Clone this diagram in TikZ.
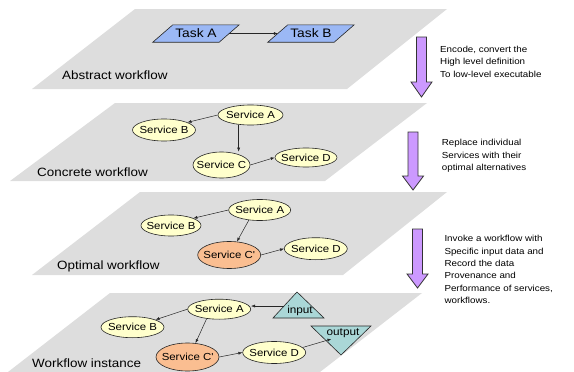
\documentclass[tikz,border=0pt]{standalone}
\usepackage{fontspec}
\setmainfont{Liberation Sans}[FakeStretch=1.12]
\usetikzlibrary{shapes.geometric,arrows.meta,calc}

\definecolor{planegray}{RGB}{221,221,221}
\definecolor{taskblue}{RGB}{155,184,245}
\definecolor{svcyellow}{RGB}{255,255,204}
\definecolor{svcorange}{RGB}{250,190,145}
\definecolor{datateal}{RGB}{170,215,215}
\definecolor{stepviolet}{RGB}{204,153,255}

\pgfdeclarelayer{bg}
\pgfsetlayers{bg,main}

% text centred in an ellipse whose size is fixed by the style
\newcommand\svctext[1]{\makebox[0pt]{#1}}
% a thick downward step arrow: centre x, top, start of head, tip
\newcommand\stepdown[4]{%
  \draw[bigarrow] (#1-5,#2) -- (#1+5,#2) -- (#1+5,#3) -- (#1+10.5,#3)
    -- (#1,#4) -- (#1-10.5,#3) -- (#1-5,#3) -- cycle;}

\tikzset{
  plane/.style={fill=planegray, draw=none},
  lbl/.style={anchor=base west, inner sep=0pt, font=\fontsize{12}{14}\selectfont},
  note/.style={anchor=north west, inner sep=0pt, align=left,
    font=\fontsize{8.75}{12.3}\selectfont},
  tasktxt/.style={inner sep=0pt, minimum width=66pt, minimum height=17pt,
    font=\fontsize{12.3}{14}\selectfont},
  taskshape/.style={fill=taskblue, draw=black!85, line width=0.6pt},
  svc/.style={ellipse, draw=black!85, line width=0.6pt, fill=svcyellow,
    inner sep=0pt, font=\fontsize{10.2}{12}\selectfont},
  svcopt/.style={svc, fill=svcorange},
  datatri/.style={fill=datateal, draw=black!85, line width=0.6pt},
  datatxt/.style={inner sep=0pt, anchor=base, font=\fontsize{10.5}{12}\selectfont},
  arw/.style={-{Latex[length=4pt,width=3pt]}, line width=0.5pt, draw=black!85},
  bigarrow/.style={fill=stepviolet, draw=black!80, line width=0.8pt},
}

\begin{document}
\begin{tikzpicture}[x=1pt,y=-1pt]
\useasboundingbox (0,0) rectangle (574,372);

% the four layers
\begin{pgfonlayer}{bg}
  \path[plane] (135,9) -- (447,9) -- (347,89) -- (32,89) -- cycle;
  \path[plane] (115,103) -- (427,103) -- (325,181) -- (10,181) -- cycle;
  \path[plane] (140,192) -- (447,192) -- (343,275) -- (32,275) -- cycle;
  \path[plane] (110,293) -- (422,293) -- (320,372) -- (8,372) -- cycle;
\end{pgfonlayer}

\node[lbl] (labAbs) at (62,79) {Abstract workflow};
\node[lbl] (labCon) at (37,176.7) {Concrete workflow};
\node[lbl] (labOpt) at (57,269) {Optimal workflow};
\node[lbl] (labIns) at (32,367.3) {Workflow instance};

% abstract tasks
\node[tasktxt] (tA) at (196,33.5) {Task A};
\node[tasktxt] (tB) at (311,33.5) {Task B};
\begin{pgfonlayer}{bg}
  \foreach \t in {tA,tB}
    \draw[taskshape] ($(\t.south west)+(-10,0)$) -- ($(\t.south east)+(-10,0)$)
      -- ($(\t.north east)+(10,0)$) -- ($(\t.north west)+(10,0)$) -- cycle;
\end{pgfonlayer}
\draw[arw] (tA.east) -- (tB.west);

% concrete workflow
\node[svc, minimum width=65pt, minimum height=20pt] (cA) at (250.5,115) {\svctext{Service A}};
\node[svc, minimum width=63pt, minimum height=22pt] (cB) at (164,130) {\svctext{Service B}};
\node[svc, minimum width=57pt, minimum height=26pt] (cC) at (221.5,165) {\svctext{Service C}};
\node[svc, minimum width=62pt, minimum height=19pt] (cD) at (306,157.5) {\svctext{Service D}};
\draw[arw] (cA.west) -- (cB.18);
\draw[arw] (cA.219) -- (cA.219 |- cC.north);
\draw[arw] (cC.east) -- (cD.west);

% optimal workflow
\node[svc, minimum width=62pt, minimum height=21pt] (oA) at (259.7,210) {\svctext{Service A}};
\node[svc, minimum width=60pt, minimum height=21pt] (oB) at (171,225.5) {\svctext{Service B}};
\node[svcopt, minimum width=63pt, minimum height=27pt] (oC) at (229.2,255) {\svctext{Service C\textquotesingle}};
\node[svc, minimum width=63pt, minimum height=22pt] (oD) at (315.8,248.7) {\svctext{Service D}};
\draw[arw] (oA.west) -- (oB.18);
\draw[arw] (oA.223) -- (oC.60);
\draw[arw] (oC.east) -- (oD.west);

% workflow instance
\node[svc, minimum width=63pt, minimum height=20pt] (iA) at (219.2,309.2) {\svctext{Service A}};
\node[svc, minimum width=63pt, minimum height=21pt] (iB) at (132.5,327.2) {\svctext{Service B}};
\node[svcopt, minimum width=63pt, minimum height=28pt] (iC) at (187.5,357) {\svctext{Service C\textquotesingle}};
\node[svc, minimum width=63pt, minimum height=22pt] (iD) at (274.2,352.5) {\svctext{Service D}};

\coordinate (inApex) at (297,292);
\coordinate (inLeft) at (273,318);
\coordinate (inRight) at (324,318);
\draw[datatri] (inApex) -- (inRight) -- (inLeft) -- cycle;
\node[datatxt] (input) at (300,313.5) {input};

\coordinate (outLeft) at (311,326);
\coordinate (outRight) at (371,326);
\coordinate (outApex) at (341,355);
\draw[datatri] (outLeft) -- (outRight) -- (outApex) -- cycle;
\node[datatxt] (output) at (343,335) {output};

\coordinate (inEdge) at ($(inApex)!0.54!(inLeft)$);
\coordinate (outTip) at ($(output.base west)+(5,4)$);
\draw[arw] (inEdge) -- (inEdge -| iA.east);
\draw[arw] (iA.west) -- (iB.18);
\draw[arw] (iA.217) -- (iC.60);
\draw[arw] (iC.east) -- (iD.west);
\draw[arw] (iD.10) -- (outTip);

% steps between the layers
\stepdown{421.5}{37}{82}{97}
\stepdown{413}{132}{176}{190}
\stepdown{417.5}{229}{274}{288}

\node[note] (n1) at (440,45.9) {Encode, convert the\\High level definition\\To low-level executable};
\node[note] (n2) at (441.7,139.3) {Replace individual\\Services with their\\optimal alternatives};
\node[note] (n3) at (444.3,235.3) {Invoke a workflow with\\Specific input data and\\Record the data\\Provenance and\\Performance of services,\\workflows.};
\end{tikzpicture}
\end{document}
